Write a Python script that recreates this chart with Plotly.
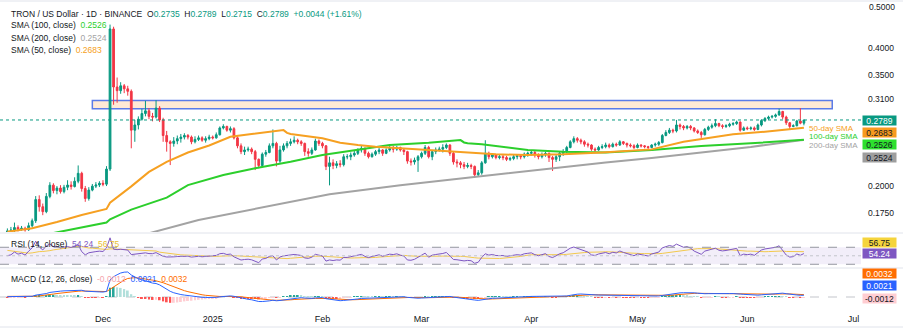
import numpy as np
import pandas as pd
import plotly.graph_objects as go

# ---------------- DATA ----------------
start_date = "2024-11-04"
first_open = 0.1585

close = [
    # Nov 4 - Nov 30
    0.1600, 0.1606, 0.1627, 0.1614, 0.1621, 0.1609, 0.1642, 0.1683, 0.1872, 0.1806,
    0.1762, 0.1902, 0.2012, 0.1958, 0.1983, 0.1948, 0.1991, 0.2013, 0.1998, 0.2052,
    0.2135, 0.1978, 0.1882, 0.1963, 0.2002, 0.2014, 0.2031,
    # Dec
    0.2022, 0.2181, 0.4400, 0.3290, 0.3230, 0.3310, 0.3260, 0.3220, 0.2650, 0.2720,
    0.2800, 0.2880, 0.2920, 0.2840, 0.2830, 0.2960, 0.2790, 0.2580, 0.2500, 0.2480,
    0.2510, 0.2540, 0.2560, 0.2580, 0.2560, 0.2500, 0.2530, 0.2550, 0.2520, 0.2540,
    0.2560,
    # Jan
    0.2550, 0.2590, 0.2680, 0.2700, 0.2650, 0.2670, 0.2550, 0.2450, 0.2380, 0.2400,
    0.2410, 0.2380, 0.2290, 0.2220, 0.2350, 0.2370, 0.2450, 0.2480, 0.2270, 0.2400,
    0.2450, 0.2480, 0.2500, 0.2520, 0.2500, 0.2480, 0.2380, 0.2360, 0.2400, 0.2510,
    0.2480,
    # Feb
    0.2450, 0.2210, 0.2250, 0.2220, 0.2240, 0.2230, 0.2320, 0.2320, 0.2340, 0.2360,
    0.2400, 0.2420, 0.2360, 0.2320, 0.2350, 0.2380, 0.2400, 0.2360, 0.2400, 0.2420,
    0.2410, 0.2430, 0.2400, 0.2380, 0.2270, 0.2260, 0.2280, 0.2320,
    # Mar
    0.2360, 0.2430, 0.2320, 0.2380, 0.2400, 0.2410, 0.2430, 0.2460, 0.2360, 0.2260,
    0.2250, 0.2230, 0.2210, 0.2220, 0.2210, 0.2120, 0.2140, 0.2250, 0.2360, 0.2320,
    0.2340, 0.2310, 0.2320, 0.2310, 0.2290, 0.2300, 0.2320, 0.2330, 0.2320, 0.2350,
    0.2360,
    # Apr
    0.2370, 0.2340, 0.2320, 0.2340, 0.2360, 0.2310, 0.2290, 0.2320, 0.2360, 0.2380,
    0.2430, 0.2500, 0.2540, 0.2520, 0.2500, 0.2470, 0.2460, 0.2410, 0.2400, 0.2430,
    0.2440, 0.2460, 0.2440, 0.2470, 0.2460, 0.2500, 0.2480, 0.2460, 0.2450, 0.2430,
    # May
    0.2460, 0.2450, 0.2440, 0.2430, 0.2460, 0.2470, 0.2490, 0.2580, 0.2620, 0.2650,
    0.2640, 0.2720, 0.2700, 0.2680, 0.2700, 0.2680, 0.2640, 0.2620, 0.2590, 0.2660,
    0.2690, 0.2710, 0.2740, 0.2710, 0.2700, 0.2710, 0.2730, 0.2740, 0.2760, 0.2650,
    0.2680,
    # Jun 1 - Jun 17
    0.2670, 0.2680, 0.2660, 0.2720, 0.2780, 0.2810, 0.2830, 0.2840, 0.2860, 0.2910,
    0.2830, 0.2750, 0.2700, 0.2710, 0.2775, 0.2745, 0.2789,
]

high = [
    0.1620, 0.1632, 0.1668, 0.1645, 0.1640, 0.1634, 0.1668, 0.1702, 0.1905, 0.1912,
    0.1835, 0.1934, 0.2042, 0.2031, 0.2003, 0.2012, 0.2015, 0.2062, 0.2051, 0.2093,
    0.2221, 0.2152, 0.2004, 0.1992, 0.2024, 0.2043, 0.2052,
    0.2063, 0.2213, 0.4498, 0.4450, 0.3450, 0.3370, 0.3340, 0.3310, 0.3250, 0.2790,
    0.2840, 0.2950, 0.3070, 0.2960, 0.2890, 0.3080, 0.2990, 0.2820, 0.2640, 0.2520,
    0.2560, 0.2580, 0.2600, 0.2610, 0.2600, 0.2580, 0.2570, 0.2580, 0.2570, 0.2570,
    0.2590,
    0.2580, 0.2620, 0.2700, 0.2730, 0.2710, 0.2700, 0.2690, 0.2570, 0.2480, 0.2440,
    0.2440, 0.2430, 0.2400, 0.2300, 0.2370, 0.2400, 0.2480, 0.2660, 0.2500, 0.2450,
    0.2480, 0.2510, 0.2540, 0.2570, 0.2540, 0.2520, 0.2490, 0.2420, 0.2430, 0.2540,
    0.2530,
    0.2500, 0.2460, 0.2320, 0.2290, 0.2270, 0.2280, 0.2350, 0.2350, 0.2370, 0.2390,
    0.2420, 0.2450, 0.2430, 0.2380, 0.2370, 0.2400, 0.2430, 0.2410, 0.2420, 0.2450,
    0.2450, 0.2450, 0.2440, 0.2420, 0.2390, 0.2300, 0.2310, 0.2340,
    0.2380, 0.2460, 0.2450, 0.2400, 0.2430, 0.2440, 0.2470, 0.2480, 0.2470, 0.2380,
    0.2290, 0.2270, 0.2260, 0.2250, 0.2240, 0.2220, 0.2170, 0.2270, 0.2520, 0.2380,
    0.2360, 0.2350, 0.2340, 0.2350, 0.2330, 0.2320, 0.2340, 0.2350, 0.2350, 0.2370,
    0.2380,
    0.2400, 0.2400, 0.2360, 0.2370, 0.2380, 0.2370, 0.2330, 0.2350, 0.2380, 0.2410,
    0.2450, 0.2520, 0.2570, 0.2560, 0.2540, 0.2520, 0.2490, 0.2470, 0.2430, 0.2450,
    0.2470, 0.2490, 0.2480, 0.2490, 0.2490, 0.2520, 0.2510, 0.2490, 0.2480, 0.2470,
    0.2480, 0.2470, 0.2460, 0.2450, 0.2470, 0.2490, 0.2510, 0.2600, 0.2650, 0.2680,
    0.2670, 0.2790, 0.2740, 0.2720, 0.2720, 0.2720, 0.2690, 0.2660, 0.2640, 0.2680,
    0.2710, 0.2740, 0.2800, 0.2750, 0.2730, 0.2730, 0.2750, 0.2760, 0.2780, 0.2770,
    0.2700,
    0.2700, 0.2700, 0.2700, 0.2740, 0.2800, 0.2830, 0.2850, 0.2860, 0.2880, 0.2950,
    0.2920, 0.2850, 0.2760, 0.2730, 0.2790, 0.2960, 0.2789,
]

low = [
    0.1572, 0.1588, 0.1592, 0.1596, 0.1601, 0.1594, 0.1600, 0.1628, 0.1665, 0.1762,
    0.1731, 0.1748, 0.1884, 0.1931, 0.1922, 0.1929, 0.1931, 0.1962, 0.1968, 0.1989,
    0.2031, 0.1948, 0.1851, 0.1862, 0.1951, 0.1983, 0.1993,
    0.2001, 0.2003, 0.2160, 0.3010, 0.3040, 0.3180, 0.3190, 0.3150, 0.2420, 0.2500,
    0.2660, 0.2780, 0.2840, 0.2800, 0.2770, 0.2810, 0.2760, 0.2500, 0.2380, 0.2225,
    0.2440, 0.2470, 0.2490, 0.2530, 0.2530, 0.2470, 0.2480, 0.2510, 0.2500, 0.2490,
    0.2520,
    0.2530, 0.2540, 0.2580, 0.2660, 0.2630, 0.2620, 0.2530, 0.2420, 0.2350, 0.2340,
    0.2380, 0.2350, 0.2170, 0.2190, 0.2200, 0.2320, 0.2360, 0.2420, 0.2210, 0.2250,
    0.2380, 0.2420, 0.2450, 0.2480, 0.2470, 0.2450, 0.2330, 0.2320, 0.2340, 0.2390,
    0.2450,
    0.2420, 0.2170, 0.2010, 0.2180, 0.2190, 0.2200, 0.2210, 0.2290, 0.2280, 0.2320,
    0.2340, 0.2370, 0.2330, 0.2300, 0.2310, 0.2330, 0.2350, 0.2330, 0.2350, 0.2380,
    0.2370, 0.2390, 0.2380, 0.2340, 0.2240, 0.2220, 0.2230, 0.2150,
    0.2300, 0.2340, 0.2300, 0.2280, 0.2350, 0.2380, 0.2370, 0.2410, 0.2330, 0.2230,
    0.2200, 0.2190, 0.2180, 0.2190, 0.2180, 0.2090, 0.2100, 0.2120, 0.2240, 0.2290,
    0.2300, 0.2290, 0.2290, 0.2280, 0.2270, 0.2270, 0.2280, 0.2290, 0.2290, 0.2300,
    0.2320,
    0.2330, 0.2310, 0.2290, 0.2300, 0.2320, 0.2260, 0.2160, 0.2260, 0.2270, 0.2330,
    0.2360, 0.2420, 0.2480, 0.2490, 0.2470, 0.2440, 0.2430, 0.2390, 0.2380, 0.2390,
    0.2410, 0.2420, 0.2420, 0.2430, 0.2440, 0.2450, 0.2460, 0.2430, 0.2430, 0.2410,
    0.2420, 0.2430, 0.2420, 0.2410, 0.2420, 0.2440, 0.2450, 0.2480, 0.2570, 0.2600,
    0.2610, 0.2620, 0.2660, 0.2650, 0.2660, 0.2650, 0.2620, 0.2600, 0.2550, 0.2580,
    0.2640, 0.2670, 0.2690, 0.2690, 0.2670, 0.2680, 0.2690, 0.2710, 0.2720, 0.2630,
    0.2640,
    0.2650, 0.2650, 0.2640, 0.2650, 0.2700, 0.2760, 0.2790, 0.2810, 0.2820, 0.2850,
    0.2800, 0.2720, 0.2660, 0.2690, 0.2700, 0.2730, 0.2715,
]

# closes of the 30 sessions before the visible window (indicator warm-up)
warmup_close = [
    0.1560, 0.1565, 0.1572, 0.1568, 0.1580, 0.1592, 0.1588, 0.1584, 0.1590, 0.1598,
    0.1603, 0.1596, 0.1601, 0.1610, 0.1622, 0.1615, 0.1608, 0.1612, 0.1630, 0.1641,
    0.1628, 0.1619, 0.1625, 0.1611, 0.1604, 0.1612, 0.1620, 0.1633, 0.1618, 0.1590,
]

sma50_dates = ["2024-11-04", "2024-11-11", "2024-11-18", "2024-11-25", "2024-12-02", "2024-12-03",
               "2024-12-09", "2024-12-14", "2024-12-19", "2024-12-25", "2024-12-31", "2025-01-06",
               "2025-01-12", "2025-01-18", "2025-01-21", "2025-01-22", "2025-01-23", "2025-02-01",
               "2025-02-06", "2025-02-11", "2025-02-16", "2025-02-23", "2025-03-03", "2025-03-13",
               "2025-03-22", "2025-03-31", "2025-04-10", "2025-04-21", "2025-05-05", "2025-05-14",
               "2025-05-28", "2025-06-06", "2025-06-16", "2025-06-17"]
sma50 = [0.1593, 0.1621, 0.1673, 0.1733, 0.1786, 0.1842, 0.2000, 0.2150, 0.2262, 0.2370,
         0.2455, 0.2564, 0.2599, 0.2633, 0.2651, 0.2615, 0.2600, 0.2545, 0.2488, 0.2460,
         0.2439, 0.2420, 0.2399, 0.2367, 0.2348, 0.2340, 0.2348, 0.2371, 0.2407, 0.2500,
         0.2596, 0.2630, 0.2679, 0.2683]

sma100_dates = ["2024-11-04", "2024-11-17", "2024-12-02", "2024-12-03", "2024-12-09", "2024-12-19",
                "2024-12-25", "2025-01-04", "2025-01-13", "2025-01-23", "2025-02-01", "2025-02-11",
                "2025-02-20", "2025-03-03", "2025-03-12", "2025-03-13", "2025-03-14", "2025-03-18",
                "2025-03-31", "2025-04-10", "2025-04-22", "2025-05-05", "2025-05-19", "2025-06-02",
                "2025-06-16", "2025-06-17"]
sma100 = [0.1500, 0.1583, 0.1668, 0.1695, 0.1780, 0.1890, 0.2013, 0.2117, 0.2190, 0.2263,
          0.2340, 0.2399, 0.2460, 0.2488, 0.2522, 0.2492, 0.2482, 0.2469, 0.2399, 0.2379,
          0.2371, 0.2399, 0.2447, 0.2481, 0.2522, 0.2526]

sma200_dates = ["2024-11-04", "2024-12-02", "2024-12-03", "2024-12-14", "2024-12-28", "2025-02-03",
                "2025-02-23", "2025-03-03", "2025-03-22", "2025-04-10", "2025-04-22", "2025-05-05",
                "2025-05-19", "2025-06-02", "2025-06-16", "2025-06-17"]
sma200 = [0.1330, 0.1490, 0.1505, 0.1581, 0.1690, 0.1922, 0.2010, 0.2043, 0.2125, 0.2202,
          0.2255, 0.2305, 0.2369, 0.2437, 0.2520, 0.2524]

zone_start, zone_end = "2024-11-28", "2025-06-25"
zone_low, zone_high = 0.2950, 0.3075

month_ticks = ["2024-12-01", "2025-01-01", "2025-02-01", "2025-03-01",
               "2025-04-01", "2025-05-01", "2025-06-01", "2025-07-01"]
month_labels = ["Dec", "2025", "Feb", "Mar", "Apr", "May", "Jun", "Jul"]

price_ticks = [0.175, 0.20, 0.31, 0.35, 0.40]
price_tick_labels = ["0.1750", "0.2000", "0.3100", "0.3500", "0.4000"]
top_tick_label = "0.5000"

last_price = 0.2789
header_ohlc = {"O": "0.2735", "H": "0.2789", "L": "0.2715", "C": "0.2789"}
header_change = "+0.0044 (+1.61%)"
sma_values_txt = {"100": "0.2526", "200": "0.2524", "50": "0.2683"}
rsi_txt, rsi_ma_txt = "54.24", "56.75"
macd_hist_txt, macd_txt, signal_txt = "-0.0012", "0.0021", "0.0032"

# ---------------- STYLE ----------------
W, H = 903, 331
FONT = "Liberation Sans, Arial, sans-serif"
TXT = "#131722"
UP, DN = "#089981", "#F23645"
C50, C100, C200 = "#F6A021", "#2CCF2C", "#A3A3A3"
RSI_C, RSI_MA_C = "#7E57C2", "#F2C94C"
MACD_C, SIG_C = "#2962FF", "#FF6D00"
FS = 8.5

XR = 861 / W  # right edge of plotting area (price scale begins)


def py(px):
    return 1 - px / H


def px_x(px):
    return px / W


# ---------------- INDICATORS ----------------
n = len(close)
dates = pd.date_range(start_date, periods=n, freq="D")
open_ = [first_open] + close[:-1]
high_ = [max(h, o, c) for h, o, c in zip(high, open_, close)]
low_ = [min(l, o, c) for l, o, c in zip(low, open_, close)]

allc = np.array(warmup_close + close, dtype=float)
delta = np.diff(allc)
gain = np.clip(delta, 0, None)
loss = np.clip(-delta, 0, None)
ag = np.zeros_like(gain)
al = np.zeros_like(loss)
ag[13] = gain[:14].mean()
al[13] = loss[:14].mean()
for i in range(14, len(gain)):
    ag[i] = (ag[i - 1] * 13 + gain[i]) / 14
    al[i] = (al[i - 1] * 13 + loss[i]) / 14
rsi_all = 100 - 100 / (1 + ag / np.where(al == 0, 1e-12, al))
rsi_all[:13] = np.nan
rsi_s = pd.Series(rsi_all)
rsi_ma_all = rsi_s.rolling(14).mean()
rsi = rsi_s.values[-n:]
rsi_ma = rsi_ma_all.values[-n:]

cs = pd.Series(allc)
ema12 = cs.ewm(span=12, adjust=False).mean()
ema26 = cs.ewm(span=26, adjust=False).mean()
macd_all = ema12 - ema26
sig_all = macd_all.ewm(span=9, adjust=False).mean()
hist_all = macd_all - sig_all
macd = macd_all.values[-n:]
sig = sig_all.values[-n:]
hist = hist_all.values[-n:]
hist_prev = hist_all.values[-n - 1:-1]
hist_cols = []
for hv, hp in zip(hist, hist_prev):
    if hv >= 0:
        hist_cols.append("#26A69A" if hv > hp else "#B2DFDB")
    else:
        hist_cols.append("#FFCDD2" if hv > hp else "#FF5252")

M = float(max(np.max(macd), np.max(sig), np.max(hist)))
macd_range = [-M * 9 / 25, M * 29 / 25]

# ---------------- FIGURE ----------------
fig = go.Figure()

fig.add_trace(go.Candlestick(
    x=dates, open=open_, high=high_, low=low_, close=close,
    increasing=dict(line=dict(color=UP, width=1), fillcolor=UP),
    decreasing=dict(line=dict(color=DN, width=1), fillcolor=DN),
    whiskerwidth=0, xaxis="x", yaxis="y", showlegend=False, hoverinfo="skip"))

for d, v, c in [(sma200_dates, sma200, C200), (sma100_dates, sma100, C100), (sma50_dates, sma50, C50)]:
    fig.add_trace(go.Scatter(x=pd.to_datetime(d), y=v, mode="lines",
                             line=dict(color=c, width=2), xaxis="x", yaxis="y",
                             showlegend=False, hoverinfo="skip"))

# RSI pane
fig.add_trace(go.Scatter(x=dates, y=rsi_ma, mode="lines", line=dict(color=RSI_MA_C, width=1),
                         xaxis="x2", yaxis="y2", showlegend=False, hoverinfo="skip"))
fig.add_trace(go.Scatter(x=dates, y=rsi, mode="lines", line=dict(color=RSI_C, width=1),
                         xaxis="x2", yaxis="y2", showlegend=False, hoverinfo="skip"))

# MACD pane
fig.add_trace(go.Bar(x=dates, y=hist, marker=dict(color=hist_cols, line=dict(width=0)),
                     width=0.55 * 86400000, xaxis="x3", yaxis="y3", showlegend=False,
                     hoverinfo="skip"))
fig.add_trace(go.Scatter(x=dates, y=sig, mode="lines", line=dict(color=SIG_C, width=1),
                         xaxis="x3", yaxis="y3", showlegend=False, hoverinfo="skip"))
fig.add_trace(go.Scatter(x=dates, y=macd, mode="lines", line=dict(color=MACD_C, width=1),
                         xaxis="x3", yaxis="y3", showlegend=False, hoverinfo="skip"))

x_range = ["2024-11-01 22:00", "2025-07-03 03:00"]
main_dom = [py(232), 1.0]
rsi_dom = [py(267), py(233)]
macd_dom = [py(306), py(268)]
y_log_range = [-0.79829, -0.2935]

ax_common = dict(range=x_range, showgrid=False, zeroline=False, showline=False,
                 ticks="", domain=[0, XR])
fig.update_layout(
    width=W, height=H, margin=dict(l=0, r=0, t=0, b=0),
    paper_bgcolor="white", plot_bgcolor="white", showlegend=False,
    font=dict(family=FONT, size=FS, color=TXT),
    xaxis=dict(**ax_common, anchor="y", showticklabels=False, rangeslider=dict(visible=False)),
    xaxis2=dict(**ax_common, anchor="y2", showticklabels=False, matches="x"),
    xaxis3=dict(**ax_common, anchor="y3", matches="x", tickvals=month_ticks,
                ticktext=month_labels, tickfont=dict(size=FS + 0.5, color=TXT),
                ticklabelstandoff=6),
    yaxis=dict(domain=main_dom, type="log", range=y_log_range, side="right",
               anchor="x", tickvals=price_ticks, ticktext=price_tick_labels,
               tickfont=dict(size=FS, color=TXT), showgrid=False, zeroline=False,
               ticks="", ticklabelstandoff=6),
    yaxis2=dict(domain=rsi_dom, range=[23.6, 103.6], anchor="x2", showticklabels=False,
                showgrid=False, zeroline=False),
    yaxis3=dict(domain=macd_dom, range=macd_range, anchor="x3", showticklabels=False,
                showgrid=False, zeroline=False),
)

shapes = []
# pane separators / borders
for yy in [1, 233, 268, 327]:
    shapes.append(dict(type="line", xref="paper", yref="paper", x0=0, x1=1, y0=py(yy), y1=py(yy),
                       line=dict(color="#E0E3EB", width=1)))
# resistance zone
shapes.append(dict(type="rect", xref="x", yref="y", x0=zone_start, x1=zone_end,
                   y0=zone_low, y1=zone_high, fillcolor="rgba(255,200,150,0.40)",
                   line=dict(color="#5B7BE8", width=1.5), layer="below"))
# last price dotted line
shapes.append(dict(type="line", xref="x domain", yref="y", x0=0, x1=1, y0=last_price, y1=last_price,
                   line=dict(color=UP, width=1, dash="dot")))
# RSI band
shapes.append(dict(type="rect", xref="x2 domain", yref="y2", x0=0, x1=1, y0=30, y1=70,
                   fillcolor="rgba(126,87,194,0.10)", line=dict(width=0), layer="below"))
for lvl, dash, col in [(70, "dash", "#9598A1"), (30, "dash", "#9598A1"), (50, "dot", "#C3C5CB")]:
    shapes.append(dict(type="line", xref="x2 domain", yref="y2", x0=0, x1=1, y0=lvl, y1=lvl,
                       line=dict(color=col, width=1, dash=dash)))
shapes.append(dict(type="line", xref="x3 domain", yref="y3", x0=0, x1=1, y0=0, y1=0,
                   line=dict(color="#C3C5CB", width=1, dash="dash"), layer="below"))
fig.update_layout(shapes=shapes)

ann = []


def label(text, x, y, **kw):
    d = dict(text=text, x=x, y=y, xref="paper", yref="paper", xanchor="left", yanchor="middle",
             showarrow=False, font=dict(size=FS, color=TXT, family=FONT))
    d.update(kw)
    ann.append(d)


def teal(s):
    return f'<span style="color:{UP}">{s}</span>'


hdr = "TRON / US Dollar · 1D · BINANCE  " + "  ".join(
    f"{k}{teal(v)}" for k, v in header_ohlc.items()) + "  " + teal(header_change)
label(hdr, px_x(9), py(14))
label(f'SMA (100, close)  <span style="color:{C100}">{sma_values_txt["100"]}</span>', px_x(9), py(25.5))
label(f'SMA (200, close)  <span style="color:{C200}">{sma_values_txt["200"]}</span>', px_x(9), py(37.5))
label(f'SMA (50, close)  <span style="color:{C50}">{sma_values_txt["50"]}</span>', px_x(9), py(50))
label(f'RSI (14, close)  <span style="color:{RSI_C}">{rsi_txt}</span>  '
      f'<span style="color:#E8BD2E">{rsi_ma_txt}</span>', px_x(9), py(244))
label(f'MACD (12, 26, close)  <span style="color:#F5A3AC">{macd_hist_txt}</span>  '
      f'<span style="color:{MACD_C}">{macd_txt}</span>  <span style="color:{SIG_C}">{signal_txt}</span>',
      px_x(9), py(279))

# top price-scale label, nudged just inside the top edge
label(top_tick_label, px_x(867), py(6.5))

# SMA names at the line ends
for name, col, yy in [("50-day SMA", C50, 128.5), ("100-day SMA", C100, 136.8), ("200-day SMA", C200, 145.3)]:
    ann.append(dict(text=name, x="2025-06-18", xref="x", y=py(yy), yref="paper", xanchor="left",
                    yanchor="middle", showarrow=False, font=dict(size=FS - 0.5, color=col, family=FONT)))

# price-scale value boxes
for txt, bg, fg, yy in [(f"{last_price:.4f}", UP, "white", 120), (sma_values_txt["50"], "#F79A1E", TXT, 132.5),
                        (sma_values_txt["100"], "#2EE02E", TXT, 144.2), (sma_values_txt["200"], "#9E9E9E", TXT, 157.5),
                        (rsi_ma_txt, "#F5D43C", TXT, 242.5), (rsi_txt, RSI_C, "white", 253.8),
                        (signal_txt, SIG_C, "white", 273.5), (macd_txt, MACD_C, "white", 285.5),
                        (macd_hist_txt, "#FFCDD2", TXT, 298)]:
    ann.append(dict(text=txt, x=px_x(862), y=py(yy), xref="paper", yref="paper", xanchor="left",
                    yanchor="middle", showarrow=False, bgcolor=bg, width=33, height=9, borderpad=0,
                    align="center", font=dict(size=FS, color=fg, family=FONT)))

fig.update_layout(annotations=ann)

fig.write_html("out.html")
